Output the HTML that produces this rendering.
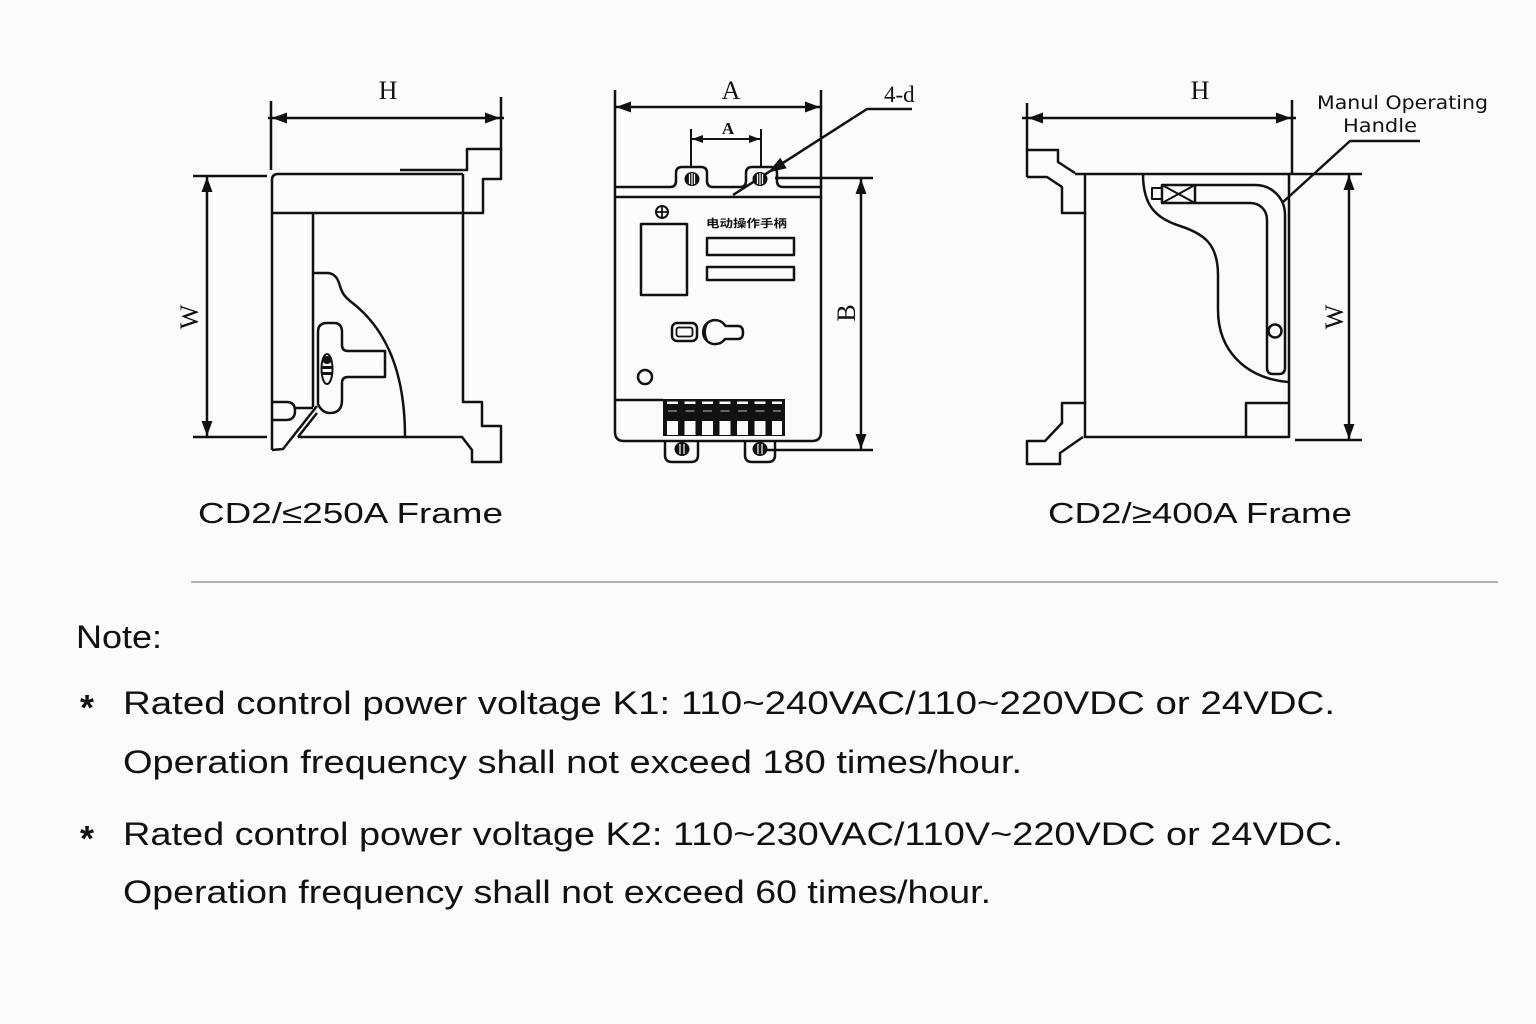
<!DOCTYPE html>
<html><head><meta charset="utf-8"><style>html,body{margin:0;padding:0;background:#fbfbfb}svg{display:block}</style></head>
<body>
<svg width="1536" height="1024" viewBox="0 0 1536 1024" xmlns="http://www.w3.org/2000/svg">
<rect width="1536" height="1024" fill="#fbfbfb"/>

<!-- ============ Drawing 1 ============ -->
<g fill="none" stroke="#111" stroke-width="2.5" stroke-linejoin="round">
  <path d="M271,101 V170 M268,118 H504"/>
  <path d="M193,176 H267 M193,437 H267 M207,176 V437"/>
  <path d="M272,450 V180 Q272,174 278,174 H463"/>
  <path d="M400,170 H467 V149 H501 V97 M501,149 V179 H483 V213 H272"/>
  <path d="M463,174 V402 H482 V426 H501 V462 H472 V450 L462,437"/>
  <path d="M298,437 H463"/>
  <path d="M313,213 V407"/>
  <path d="M313,273 H327 C335,273 338,279 340,286 C342,293 345,297 350,301 C382,325 405,365 405,437"/>
  <path d="M318,404 V332 Q318,323 327,323 H334 Q342,323 342,332 V345 Q342,351 348,351 H385 V377 H348 Q342,377 342,383 V400 Q342,413 330,413 Q322,413 318,404 Z"/>
  <ellipse cx="327" cy="369" rx="5.5" ry="15" stroke-width="2"/>
  <path d="M272,402 H287 Q295,402 295,411 Q295,420 286,420 H272"/>
  <path d="M295,408 H313"/>
  <path d="M272,450 L283,449 L317,406"/>
  <path d="M298,437 L317,413"/>
</g>
<g fill="#111">
  <ellipse cx="327" cy="360" rx="4.5" ry="4"/>
  <rect x="322.5" y="366" width="9" height="3"/>
  <rect x="322.5" y="372" width="9" height="3"/>
  <polygon points="272,118 287,112.5 287,123.5"/>
  <polygon points="500,118 485,112.5 485,123.5"/>
  <polygon points="207,177 201.5,192 212.5,192"/>
  <polygon points="207,436 201.5,421 212.5,421"/>
</g>
<text x="388" y="99" font-family="'Liberation Serif', serif" font-size="26" text-anchor="middle" fill="#111">H</text>
<text transform="translate(198,317) rotate(-90)" font-family="'Liberation Serif', serif" font-size="26" text-anchor="middle" fill="#111">W</text>

<!-- ============ Drawing 2 ============ -->
<g fill="none" stroke="#111" stroke-width="2.5" stroke-linejoin="round">
  <path d="M615,90 V432 Q615,441 624,441 H812 Q821,441 821,432 V90"/>
  <path d="M615,107 H821"/>
  <path d="M691,129 V167 M761,129 V167 M691,139 H761" stroke-width="2"/>
  <path d="M615,187 H670 Q676,187 676,181 V173 Q676,167 682,167 H701 Q707,167 707,173 V181 Q707,187 713,187 H740 Q746,187 746,181 V173 Q746,167 752,167 H771 Q777,167 777,173 V181 Q777,187 783,187 H821"/>
  <path d="M615,197 H821"/>
  <rect x="641" y="224" width="46" height="71"/>
  <rect x="707" y="238" width="87" height="17"/>
  <rect x="707" y="267" width="87" height="13"/>
  <rect x="672" y="323" width="25" height="18" rx="5"/>
  <rect x="676.5" y="327.5" width="16" height="9" rx="2" stroke-width="1.8"/>
  <path d="M725.5,326 A12,12 0 1 0 725,339 H738 Q743,339 743,332.5 Q743,326 738,326 Z"/>
  <path d="M707,324 Q703,332 707,340" stroke-width="1.8"/>
  <circle cx="645" cy="377" r="7"/>
  <circle cx="662" cy="212" r="6" stroke-width="2"/>
  <path d="M655,212 H669 M662,205 V219" stroke-width="1.8"/>
  <path d="M615,400 H663"/>
  <path d="M665,441 V455 Q665,462 672,462 H691 Q698,462 698,455 V441"/>
  <path d="M745,441 V455 Q745,462 752,462 H768 Q775,462 775,455 V441"/>
  <path d="M775,178 H873 M767,450 H873 M861,178 V450"/>
  <path d="M912,109 H867 L733,195"/>
</g>
<g fill="#111">
  <polygon points="616,107 631,101.5 631,112.5"/>
  <polygon points="820,107 805,101.5 805,112.5"/>
  <polygon points="692,139 703,135 703,143"/>
  <polygon points="760,139 749,135 749,143"/>
  <polygon points="861,179 855.5,194 866.5,194"/>
  <polygon points="861,449 855.5,434 866.5,434"/>
  <polygon points="768,172.5 786.7,168.2 780.3,157.8"/>
  <ellipse cx="692" cy="179" rx="7.5" ry="7"/>
  <ellipse cx="760" cy="179" rx="7.5" ry="7"/>
  <ellipse cx="682" cy="449" rx="7.5" ry="7"/>
  <ellipse cx="760" cy="449" rx="7.5" ry="7"/>
  <rect x="663" y="399" width="122" height="37"/>
</g>
<g stroke="#fbfbfb" stroke-width="1.2">
  <path d="M689.5,174 V184 M692,173 V185 M694.5,174 V184"/>
  <path d="M757.5,174 V184 M760,173 V185 M762.5,174 V184"/>
  <path d="M680,444 V454 M684,444 V454"/>
  <path d="M758,444 V454 M762,444 V454"/>
</g>
<g fill="#fbfbfb">
  <rect x="667" y="421" width="11" height="14"/>
  <rect x="684.5" y="421" width="11" height="14"/>
  <rect x="702" y="421" width="11" height="14"/>
  <rect x="719.5" y="421" width="11" height="14"/>
  <rect x="737" y="421" width="11" height="14"/>
  <rect x="754.5" y="421" width="11" height="14"/>
  <rect x="772" y="421" width="10" height="14"/>
  <rect x="667" y="401.5" width="11" height="2.5"/>
  <rect x="684.5" y="401.5" width="11" height="2.5"/>
  <rect x="702" y="401.5" width="11" height="2.5"/>
  <rect x="719.5" y="401.5" width="11" height="2.5"/>
  <rect x="737" y="401.5" width="11" height="2.5"/>
  <rect x="754.5" y="401.5" width="11" height="2.5"/>
  <rect x="772" y="401.5" width="10" height="2.5"/>
</g>
<g fill="#666">
  <rect x="668" y="410" width="9" height="2"/>
  <rect x="685.5" y="410" width="9" height="2"/>
  <rect x="703" y="410" width="9" height="2"/>
  <rect x="720.5" y="410" width="9" height="2"/>
  <rect x="738" y="410" width="9" height="2"/>
  <rect x="755.5" y="410" width="9" height="2"/>
  <rect x="773" y="410" width="8" height="2"/>
</g>
<text x="731" y="99" font-family="'Liberation Serif', serif" font-size="26" text-anchor="middle" fill="#111">A</text>
<text x="728" y="134" font-family="'Liberation Serif', serif" font-size="17" font-weight="bold" text-anchor="middle" fill="#111">A</text>
<text x="884" y="102" font-family="'Liberation Serif', serif" font-size="23" fill="#111">4-d</text>
<text transform="translate(855,313) rotate(-90)" font-family="'Liberation Serif', serif" font-size="26" text-anchor="middle" fill="#111">B</text>
<text x="706" y="227" font-family="'Liberation Sans','Noto Sans CJK SC',sans-serif" font-size="11" font-weight="bold" textLength="81" lengthAdjust="spacingAndGlyphs" fill="#111">电动操作手柄</text>

<!-- ============ Drawing 3 ============ -->
<g fill="none" stroke="#111" stroke-width="2.5" stroke-linejoin="round">
  <path d="M1027,103 V177 M1022,118 H1296 M1292,100 V174"/>
  <path d="M1075,174 H1362"/>
  <path d="M1085,174 V437 H1289 V174"/>
  <path d="M1246,437 V403 H1289"/>
  <path d="M1027,150 H1058 V162 L1075,173"/>
  <path d="M1027,177 H1047 L1062,187 V213 H1085"/>
  <path d="M1085,403 H1062 V423 L1045,441 H1027 V464 H1060 V453 L1083,437"/>
  <path d="M1295,440 H1362 M1349,174 V440"/>
  <path d="M1143,174 C1143,205 1155,218 1180,226 C1205,234 1218,245 1218,275 L1218,310 C1218,350 1245,378 1288,382"/>
  <path d="M1195,185 H1255 C1272,185 1285,198 1285,215 V368 Q1285,374 1279,374 H1273 Q1267,374 1267,368 V220 C1267,210 1260,203 1250,203 H1195"/>
  <circle cx="1275" cy="331" r="6.5"/>
  <rect x="1162" y="185" width="33" height="18"/>
  <path d="M1162,185 L1195,203 M1195,185 L1162,203" stroke-width="2"/>
  <rect x="1152" y="188" width="10" height="11" stroke-width="2"/>
  <path d="M1420,141 H1350 L1282,203"/>
</g>
<g fill="#111">
  <polygon points="1028,118 1043,112.5 1043,123.5"/>
  <polygon points="1291,118 1276,112.5 1276,123.5"/>
  <polygon points="1349,175 1343.5,190 1354.5,190"/>
  <polygon points="1349,439 1343.5,424 1354.5,424"/>
</g>
<text x="1200" y="99" font-family="'Liberation Serif', serif" font-size="26" text-anchor="middle" fill="#111">H</text>
<text transform="translate(1343,317) rotate(-90)" font-family="'Liberation Serif', serif" font-size="26" text-anchor="middle" fill="#111">W</text>
<text x="1317" y="109" font-family="'DejaVu Sans', sans-serif" font-size="19" textLength="171" lengthAdjust="spacingAndGlyphs" fill="#111">Manul Operating</text>
<text x="1343" y="132" font-family="'DejaVu Sans', sans-serif" font-size="19" textLength="74" lengthAdjust="spacingAndGlyphs" fill="#111">Handle</text>

<!-- ============ Captions ============ -->
<text x="198" y="523" font-family="'Liberation Sans', 'DejaVu Sans', sans-serif" font-size="29" textLength="305" lengthAdjust="spacingAndGlyphs" fill="#111">CD2/≤250A Frame</text>
<text x="1048" y="523" font-family="'Liberation Sans', 'DejaVu Sans', sans-serif" font-size="29" textLength="304" lengthAdjust="spacingAndGlyphs" fill="#111">CD2/≥400A Frame</text>

<line x1="191" y1="582" x2="1498" y2="582" stroke="#b3b3b3" stroke-width="2"/>

<!-- ============ Notes ============ -->
<g font-family="'Liberation Sans', sans-serif" font-size="32" fill="#111">
  <text x="76" y="648" textLength="86" lengthAdjust="spacingAndGlyphs">Note:</text>
  <text x="80" y="720" font-size="36" font-weight="bold">*</text>
  <text x="123" y="714" textLength="1212" lengthAdjust="spacingAndGlyphs">Rated control power voltage K1: 110~240VAC/110~220VDC or 24VDC.</text>
  <text x="123" y="773" textLength="899" lengthAdjust="spacingAndGlyphs">Operation frequency shall not exceed 180 times/hour.</text>
  <text x="80" y="851" font-size="36" font-weight="bold">*</text>
  <text x="123" y="845" textLength="1220" lengthAdjust="spacingAndGlyphs">Rated control power voltage K2: 110~230VAC/110V~220VDC or 24VDC.</text>
  <text x="123" y="903" textLength="868" lengthAdjust="spacingAndGlyphs">Operation frequency shall not exceed 60 times/hour.</text>
</g>
</svg>
</body></html>
